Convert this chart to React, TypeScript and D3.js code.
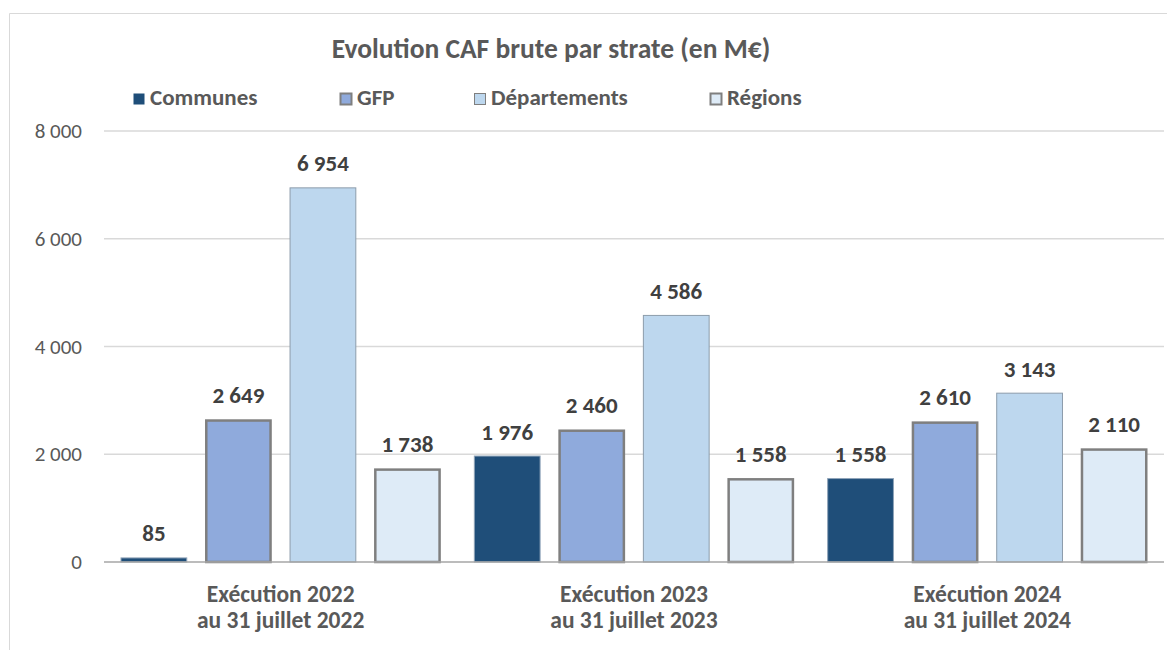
import React from 'react';
import * as d3 from 'd3';

const title = 'Evolution CAF brute par strate (en M€)';
const categories = ['2022', '2023', '2024'];
const categoryLines = [
  ['Exécution 2022', 'au 31 juillet 2022'],
  ['Exécution 2023', 'au 31 juillet 2023'],
  ['Exécution 2024', 'au 31 juillet 2024'],
];
const seriesNames = ['Communes', 'GFP', 'Départements', 'Régions'];
const communes = [85, 1976, 1558];
const gfp = [2649, 2460, 2610];
const departements = [6954, 4586, 3143];
const regions = [1738, 1558, 2110];
const yTicks = [0, 2000, 4000, 6000, 8000];

const fills = ['#1F4E79', '#8FAADC', '#BDD7EE', '#DEEBF7'];
const strokes = ['#8FA3B8', '#7F7F7F', '#8C9CAB', '#7F7F7F'];
const strokeWidths = [1, 2.5, 1, 2.5];
const legendX = [133, 340, 474, 710];

const FONT = 'Carlito, Lato, "Open Sans", sans-serif';
const fmt = d3.formatLocale({ decimal: ',', thousands: ' ', grouping: [3], currency: ['', '€'] }).format(',d');

export default function App() {
  const width = 1167;
  const height = 650;
  const plot = { left: 104, right: 1164, top: 131, bottom: 562 };
  const values = [communes, gfp, departements, regions];

  const y = d3.scaleLinear().domain([0, 8000]).range([plot.bottom, plot.top]);
  const x0 = d3.scaleBand().domain(categories).range([plot.left, plot.right]);
  const x1 = d3.scaleBand()
    .domain(seriesNames)
    .range([16.5, x0.bandwidth() - 16.5])
    .paddingInner(0.21);

  return (
    <svg width={width} height={height} style={{ position: 'absolute', left: 0, top: 0 }} fontFamily={FONT}>
      <rect x={0} y={0} width={width} height={height} fill="#fff" />
      <line x1={9.5} y1={13.5} x2={width} y2={13.5} stroke="#D9D9D9" />
      <line x1={9.5} y1={13.5} x2={9.5} y2={height} stroke="#D9D9D9" />

      <text x={551} y={58} textAnchor="middle" fontSize={27.5} fontWeight="bold" fill="#595959">{title}</text>

      {seriesNames.map((s, i) => (
        <g key={s}>
          <rect x={legendX[i] + 0.5} y={93.5} width={11} height={11} fill={fills[i]}
            stroke={i === 0 ? 'none' : '#7F7F7F'} strokeWidth={i % 2 === 1 ? 2 : 1} />
          <text x={legendX[i] + 17} y={105} fontSize={23} fontWeight="bold" fill="#595959">{s}</text>
        </g>
      ))}

      {yTicks.map(t => (
        <g key={t}>
          {t > 0 && <line x1={plot.left} x2={plot.right} y1={y(t)} y2={y(t)} stroke="#D9D9D9" strokeWidth={1.5} />}
          <text x={82} y={y(t) + 7} textAnchor="end" fontSize={21} fill="#595959">{fmt(t)}</text>
        </g>
      ))}

      {categories.map((c, ci) => (
        <g key={c} transform={`translate(${x0(c)},0)`}>
          {seriesNames.map((s, si) => {
            const v = values[si][ci];
            const bx = x1(s)!;
            const sw = strokeWidths[si];
            return (
              <g key={s}>
                <rect x={bx + sw / 2} y={y(v) + sw / 2} width={x1.bandwidth() - sw}
                  height={Math.max(0, plot.bottom - y(v) - sw / 2)}
                  fill={fills[si]} stroke={strokes[si]} strokeWidth={sw} />
                <text x={bx + x1.bandwidth() / 2} y={y(v) - 16} textAnchor="middle"
                  fontSize={23} fontWeight="bold" fill="#404040">{fmt(v)}</text>
              </g>
            );
          })}
          {categoryLines[ci].map((l, li) => (
            <text key={li} x={x0.bandwidth() / 2} y={602 + li * 26} textAnchor="middle"
              fontSize={23.5} fontWeight="bold" fill="#595959">{l}</text>
          ))}
        </g>
      ))}

      <line x1={plot.left} x2={plot.right} y1={plot.bottom} y2={plot.bottom} stroke="#A6A6A6" strokeWidth={1.5} />
    </svg>
  );
}
